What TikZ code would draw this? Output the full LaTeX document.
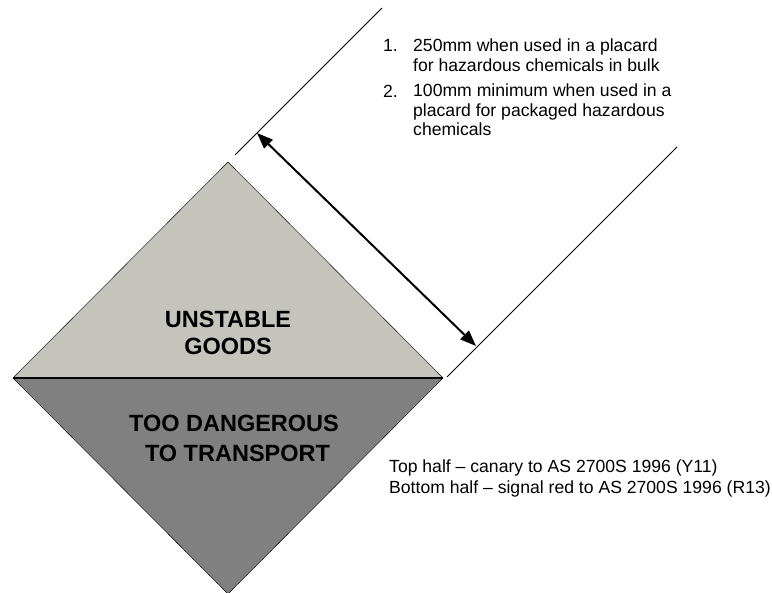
\documentclass[tikz,border=0pt]{standalone}
\usepackage{fontspec}
\setmainfont{Liberation Sans}
\usetikzlibrary{arrows.meta}
\definecolor{canary}{HTML}{C4C4BC}
\definecolor{signalred}{HTML}{808080}

\begin{document}
\begin{tikzpicture}[x=1pt,y=-1pt,
    extline/.style={line width=0.8pt},
    sizearrow/.style={line width=2pt,{Triangle[length=16pt,width=12pt]}-{Triangle[length=16pt,width=12pt]}},
    signtext/.style={font=\fontsize{23.5}{27}\selectfont\bfseries,align=center,inner sep=0pt,anchor=base},
    notetext/.style={font=\fontsize{17.6}{19.5}\selectfont,align=left,inner sep=0pt,anchor=base west}]
  \useasboundingbox (0,0) rectangle (772,593);
  % corners of the placard
  \coordinate (top) at (228,162);
  \coordinate (left) at (13,378);
  \coordinate (right) at (443,378);
  \coordinate (bot) at (228,594);
  \fill[canary] (left) -- (top) -- (right) -- cycle;
  \fill[signalred] (left) -- (bot) -- (right) -- cycle;
  \draw (left) -- (top) -- (right) -- (bot) -- cycle;
  \draw[line width=1.6pt] (left) -- (right);
  % size lines
  \coordinate (e1a) at (235,155);
  \coordinate (e1b) at (382,8);
  \coordinate (e2a) at (447,377);
  \coordinate (e2b) at (677,147);
  \draw[extline] (e1a) -- (e1b);
  \draw[extline] (e2a) -- (e2b);
  \coordinate (a1) at (257,133);
  \coordinate (a2) at (476,346);
  \draw[sizearrow] (a1) -- (a2);
  % sign texts (base = last line)
  \node[signtext] (upper) at (228,355) {UNSTABLE\\GOODS};
  \node[signtext,font=\fontsize{23.5}{30}\selectfont\bfseries] (lower) at (234,461.7) {TOO DANGEROUS\\\hspace*{7pt}TO TRANSPORT};
  % notes
  \foreach \y/\z/\n/\t in {52/71.5/1/{250mm when used in a placard\\for hazardous chemicals in bulk},
                        98/136/2/{100mm minimum when used in a\\placard for packaged hazardous\\chemicals}}{%
    \node[notetext] (num\n) at (383,\y) {\n.};
    \node[notetext] (note\n) at (413,\z) {\t};
  }
  \node[notetext,font=\fontsize{17.6}{21}\selectfont] (colours) at (389,494) {Top half -- canary to AS 2700S 1996 (Y11)\\Bottom half -- signal red to AS 2700S 1996 (R13)};
\end{tikzpicture}
\end{document}
